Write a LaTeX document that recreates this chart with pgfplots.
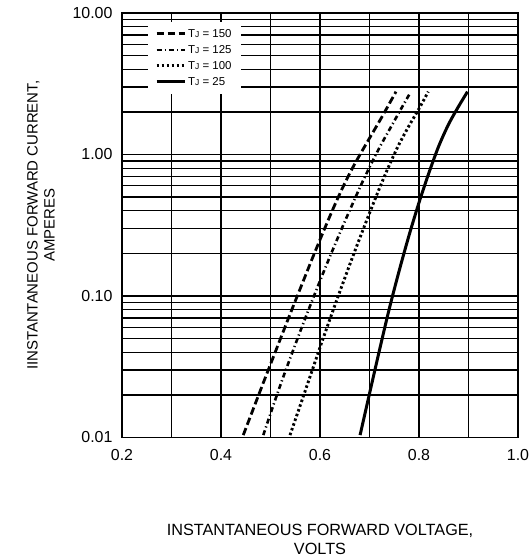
\documentclass[border=0pt]{standalone}
\usepackage{fontspec}
\setmainfont{Liberation Sans}
\usepackage{pgfplots}
\pgfplotsset{compat=1.18}

\newcommand{\TJ}{T{\fontsize{8.5}{9}\selectfont J}}

\begin{document}
\begin{tikzpicture}
\begin{axis}[
    scale only axis, width=396bp, height=424.5bp,
    ymode=log,
    xmin=0.2, xmax=1.0, ymin=0.01, ymax=10,
    xtick={0.2,0.4,0.6,0.8,1.0}, xticklabels={0.2,0.4,0.6,0.8,1.0},
    minor xtick={0.3,0.5,0.7,0.9},
    ytick={0.01,0.1,1,10}, yticklabels={0.01,0.10,1.00,10.00},
    minor ytick={0.02,0.03,0.04,0.05,0.06,0.07,0.08,0.09,0.2,0.3,0.4,0.5,0.6,0.7,0.8,0.9,2,3,4,5,6,7,8,9},
    grid=both,
    major grid style={black, line width=1.3bp},
    minor grid style={black, line width=1.2bp},
    major tick length=0pt, minor tick length=0pt,
    axis line style={line width=1.4bp},
    /pgf/number format/assume math mode=true,
    tick label style={font=\fontsize{16}{19}\selectfont},
    xticklabel style={yshift=-8bp},
    yticklabel style={xshift=-6bp},
    xlabel={INSTANTANEOUS FORWARD VOLTAGE,\\VOLTS},
    xlabel style={align=center, at={(axis description cs:0.5,-0.2037)}, anchor=north,
        inner sep=0pt, font=\fontsize{16.3}{19}\selectfont},
    ylabel={IINSTANTANEOUS FORWARD CURRENT,\\AMPERES},
    ylabel style={align=center, at={(axis description cs:-0.24,0.5)}, anchor=north,
        inner sep=0pt, font=\fontsize{15}{17}\selectfont},
    legend style={at={(0.0657,0.979)}, anchor=north west, draw=none, fill=white,
        font=\fontsize{11.5}{13}\selectfont, inner xsep=7bp, inner ysep=5bp,
        row sep=2.5bp, cells={anchor=west}},
    legend image code/.code={\draw[#1] (0bp,0bp) -- (28bp,0bp);},
]
% TJ = 150
\addplot[line width=2.8bp, dash pattern=on 7.5bp off 3.5bp, smooth] coordinates {
(0.445,0.0104) (0.465,0.01585) (0.485,0.0241) (0.505,0.0365) (0.525,0.0552)
(0.545,0.0832) (0.565,0.1245) (0.585,0.1862) (0.605,0.2754) (0.625,0.4027)
(0.645,0.5754) (0.665,0.7943) (0.685,1.059) (0.705,1.396) (0.725,1.841) (0.7535,2.78)
};
\addlegendentry{\TJ\ = 150}
% TJ = 125
\addplot[line width=2.6bp, dash pattern=on 5bp off 3bp on 1.2bp off 3bp, smooth] coordinates {
(0.4855,0.0104) (0.505,0.0166) (0.525,0.0263) (0.545,0.0407) (0.565,0.0624)
(0.585,0.0944) (0.605,0.1413) (0.625,0.2089) (0.645,0.3055) (0.665,0.4416)
(0.685,0.631) (0.705,0.881) (0.725,1.202) (0.745,1.603) (0.765,2.138) (0.7818,2.707)
};
\addlegendentry{\TJ\ = 125}
% TJ = 100
\addplot[line width=2.9bp, dash pattern=on 2.5bp off 2.5bp, smooth] coordinates {
(0.5394,0.0104) (0.5594,0.0166) (0.5794,0.0266) (0.5994,0.0427) (0.6194,0.0676)
(0.6394,0.1059) (0.6594,0.1641) (0.6794,0.2512) (0.6994,0.3802) (0.7194,0.5689)
(0.7394,0.8318) (0.7594,1.175) (0.7794,1.585) (0.7994,2.089) (0.8188,2.78)
};
\addlegendentry{\TJ\ = 100}
% TJ = 25
\addplot[line width=3bp, smooth] coordinates {
(0.681,0.0104) (0.700,0.0204) (0.720,0.0412) (0.740,0.0813) (0.760,0.151)
(0.780,0.269) (0.800,0.457) (0.820,0.741) (0.840,1.148) (0.860,1.641)
(0.880,2.188) (0.898,2.78)
};
\addlegendentry{\TJ\ = 25}
\end{axis}
\pgfresetboundingbox
\path (current axis.south west) ++(-122bp,-120.5bp) rectangle ++(529bp,558bp);
\end{tikzpicture}
\end{document}
